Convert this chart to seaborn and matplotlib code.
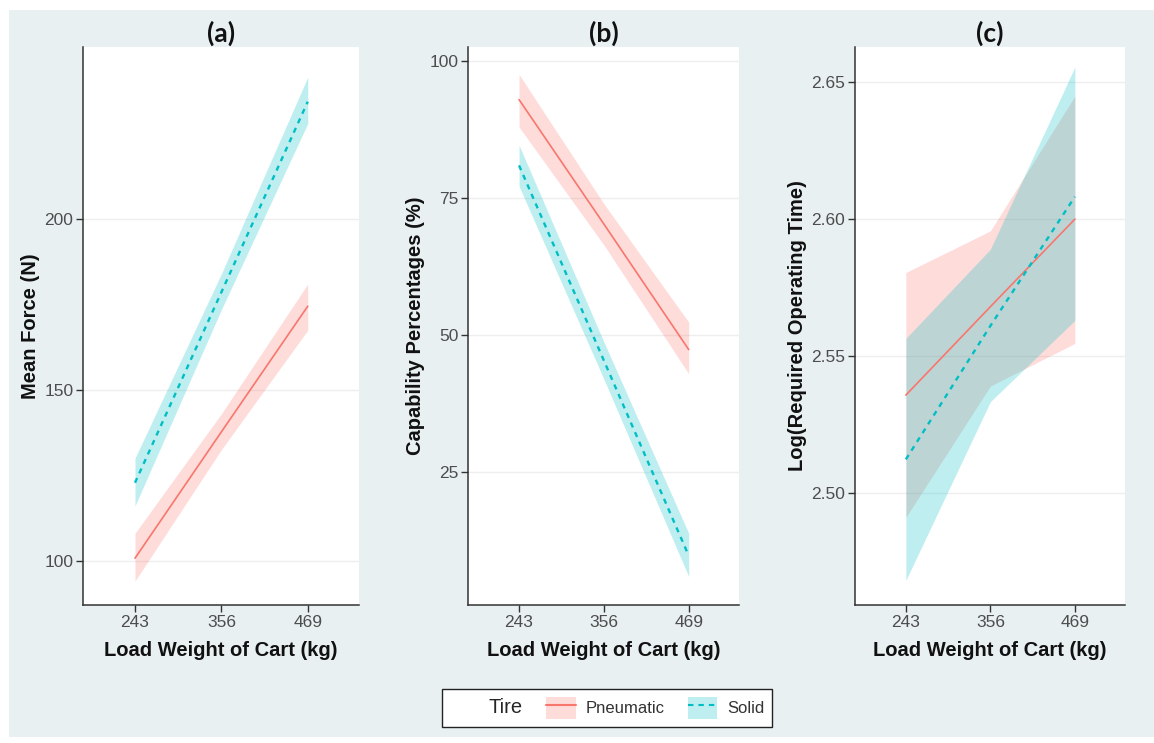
import matplotlib
matplotlib.use("Agg")
import matplotlib.pyplot as plt
from matplotlib.patches import Patch, Rectangle
from matplotlib.lines import Line2D
import pandas as pd
import seaborn as sns

# values
load = [243, 356, 469]
tires = ["Pneumatic", "Solid"]

# (a) mean force
force_pneu = [100.7, 137.7, 174.5]
force_pneu_lo = [94.0, 132.5, 167.5]
force_pneu_hi = [108.0, 143.0, 181.0]
force_solid = [122.8, 178.6, 234.4]
force_solid_lo = [116.0, 173.5, 228.0]
force_solid_hi = [130.0, 184.0, 241.6]

# (b) capability percentages
cap_pneu = [93.0, 70.3, 47.4]
cap_pneu_lo = [88.0, 66.5, 43.0]
cap_pneu_hi = [97.6, 74.0, 52.4]
cap_solid = [81.0, 45.4, 9.8]
cap_solid_lo = [77.2, 42.0, 6.0]
cap_solid_hi = [84.7, 48.8, 13.9]

# (c) log required operating time
time_pneu = [2.5357, 2.568, 2.600]
time_pneu_lo = [2.491, 2.539, 2.5546]
time_pneu_hi = [2.5805, 2.5957, 2.645]
time_solid = [2.5122, 2.561, 2.6082]
time_solid_lo = [2.468, 2.5333, 2.563]
time_solid_hi = [2.5564, 2.589, 2.6556]

panel_titles = ["(a)", "(b)", "(c)"]
y_labels = ["Mean Force (N)", "Capability Percentages (%)", "Log(Required Operating Time)"]
y_ticks = [[100, 150, 200], [25, 50, 75, 100], [2.50, 2.55, 2.60, 2.65]]
y_limits = [(87, 250.4), (0.8, 102.6), (2.459, 2.6629)]
x_label = "Load Weight of Cart (kg)"

palette = {"Pneumatic": "#F8766D", "Solid": "#00BFC4"}
bg = "#E9F0F2"


def make_frame(pneu, pneu_lo, pneu_hi, solid, solid_lo, solid_hi):
    rows = []
    for tire, m, lo, hi in [("Pneumatic", pneu, pneu_lo, pneu_hi),
                            ("Solid", solid, solid_lo, solid_hi)]:
        for x, a, b, c in zip(load, m, lo, hi):
            rows.append({"load": x, "Tire": tire, "mean": a, "lo": b, "hi": c})
    return pd.DataFrame(rows)


frames = [
    make_frame(force_pneu, force_pneu_lo, force_pneu_hi, force_solid, force_solid_lo, force_solid_hi),
    make_frame(cap_pneu, cap_pneu_lo, cap_pneu_hi, cap_solid, cap_solid_lo, cap_solid_hi),
    make_frame(time_pneu, time_pneu_lo, time_pneu_hi, time_solid, time_solid_lo, time_solid_hi),
]

sns.set_theme(style="white")
plt.rcParams["font.family"] = ["Liberation Sans", "DejaVu Sans"]

fig = plt.figure(figsize=(11.54, 7.43), dpi=100, facecolor="white")
fig.patches.append(Rectangle((9 / 1154, 6 / 743), 1, 1 - 16 / 743, transform=fig.transFigure,
                             facecolor=bg, edgecolor="none", zorder=-10))

lefts = [83 / 1154, 468 / 1154, 855 / 1154]
widths = [276 / 1154, 271 / 1154, 270 / 1154]
bottom = 1 - 605 / 743
height = (605 - 47) / 743

for i, df in enumerate(frames):
    ax = fig.add_axes([lefts[i], bottom, widths[i], height])
    ax.set_facecolor("white")
    for tire in tires:
        d = df[df["Tire"] == tire]
        ax.fill_between(d["load"], d["lo"], d["hi"], color=palette[tire], alpha=0.25,
                        linewidth=0, zorder=1)
    sns.lineplot(data=df, x="load", y="mean", hue="Tire", style="Tire", palette=palette,
                 dashes={"Pneumatic": "", "Solid": (2.2, 2.2)}, size="Tire",
                 sizes={"Pneumatic": 1.2, "Solid": 1.7},
                 legend=False, ax=ax, zorder=3)

    ax.set_xlim(175, 536)
    ax.set_ylim(*y_limits[i])
    ax.set_xticks(load)
    ax.set_yticks(y_ticks[i])
    if i == 2:
        ax.set_yticklabels([f"{v:.2f}" for v in y_ticks[i]])
    ax.grid(axis="y", color="#EEEEEE", linewidth=1.0)
    ax.grid(axis="x", visible=False)
    ax.set_axisbelow(True)
    for side in ["top", "right"]:
        ax.spines[side].set_visible(False)
    for side in ["left", "bottom"]:
        ax.spines[side].set_color("#333333")
        ax.spines[side].set_linewidth(1.1)
    ax.tick_params(axis="both", which="major", direction="out", length=5, width=1.0,
                   color="#333333", labelcolor="#4D4D4D", labelsize=12.5, pad=2,
                   left=True, bottom=True)
    ax.set_xlabel(x_label, fontsize=14.5, fontweight="bold", color="#111111", labelpad=8)
    ax.set_ylabel(y_labels[i], fontsize=14.5, fontweight="bold", color="#111111", labelpad=3)
    ax.set_title(panel_titles[i], fontsize=19, fontweight="bold", pad=4,
                 family=["Lato", "DejaVu Sans"], color="#111111")

handles = [
    Patch(facecolor="none", edgecolor="none"),
    (Patch(facecolor=palette["Pneumatic"], alpha=0.25, edgecolor="none"),
     Line2D([], [], color=palette["Pneumatic"], linewidth=1.5)),
    (Patch(facecolor=palette["Solid"], alpha=0.25, edgecolor="none"),
     Line2D([], [], color=palette["Solid"], linewidth=1.5, linestyle=(0, (2.6, 2.4)))),
]
leg = fig.legend(handles, ["Tire", "Pneumatic", "Solid"], ncol=3, loc="center",
                 bbox_to_anchor=(607 / 1154, 1 - 708 / 743), frameon=True, fancybox=False,
                 edgecolor="#222222", facecolor="white", framealpha=1, fontsize=12,
                 handlelength=1.75, handleheight=1.7, handletextpad=0.6,
                 columnspacing=1.4, borderpad=0.45, borderaxespad=0)
leg.get_frame().set_linewidth(1.0)
texts = leg.get_texts()
texts[0].set_fontsize(14.5)
for t in texts[1:]:
    t.set_color("#333333")

fig.savefig("out.png", dpi=100, facecolor=fig.get_facecolor())
